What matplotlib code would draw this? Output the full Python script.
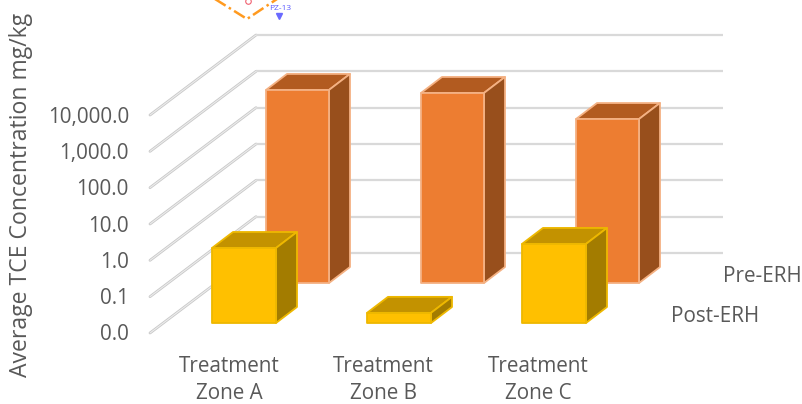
import matplotlib
matplotlib.use("Agg")
import matplotlib.pyplot as plt
from matplotlib.patches import Polygon
import numpy as np

categories = ["Treatment\nZone A", "Treatment\nZone B", "Treatment\nZone C"]
series_names = ["Pre-ERH", "Post-ERH"]
pre_erh = [2060.0, 1700.0, 326.0]
post_erh = [1.16, 0.019, 1.5]
tick_values = [0.01, 0.1, 1, 10, 100, 1000, 10000]
tick_labels = ["0.0", "0.1", "1.0", "10.0", "100.0", "1,000.0", "10,000.0"]

plt.rcParams["font.family"] = ["Open Sans", "DejaVu Sans"]
TXT = "#595959"
GRID = "#d9d9d9"
FS = 14.9

fig = plt.figure(figsize=(8.02, 4.04), dpi=100)
ax = fig.add_axes([0, 0, 1, 1])
ax.set_xlim(0, 802)
ax.set_ylim(404, 0)
ax.axis("off")

# oblique projection: decade height, wall depth
DEC = 36.33
FLOOR = 333.0
DX, DY = 106.0, -80.0


def h(v):
    return (np.log10(v) + 2) * DEC


# walls
for v, lab in zip(tick_values, tick_labels):
    y = FLOOR - h(v)
    ax.plot([150, 150 + DX], [y, y + DY], color="#c8c8c8", lw=2.0,
            solid_capstyle="round", zorder=1)
    ax.plot([150, 150 + DX], [y, y + DY], color="#ececec", lw=0.8,
            solid_capstyle="round", zorder=1.1)
    ax.plot([150 + DX, 723], [y + DY, y + DY], color=GRID, lw=1.6,
            solid_capstyle="butt", zorder=1)
    ax.text(129, y + 2, lab, ha="right", va="center", fontsize=FS, color=TXT)


def bar(x0, base, v, w, front, top, side, edge):
    d, e = 21, -16
    t = base - h(v)
    kw = dict(closed=True, ec=edge, lw=1.3, joinstyle="round")
    ax.add_patch(Polygon([(x0, t), (x0 + w, t), (x0 + w + d, t + e), (x0 + d, t + e)], fc=top, zorder=zo[0], **kw))
    ax.add_patch(Polygon([(x0 + w, t), (x0 + w + d, t + e), (x0 + w + d, base + e), (x0 + w, base)], fc=side, zorder=zo[0], **kw))
    ax.add_patch(Polygon([(x0, t), (x0 + w, t), (x0 + w, base), (x0, base)], fc=front, zorder=zo[0], **kw))


zo = [3]
for i, v in enumerate(pre_erh):
    bar(266 + 155 * i, 283, v, 63, "#ed7d31", "#b25b20", "#984f1c", "#f4b183")
zo = [4]
for i, v in enumerate(post_erh):
    bar(212 + 155 * i, 323, v, 64, "#ffc000", "#c39200", "#a37c00", "#eeb800")

for i, c in enumerate(categories):
    ax.text(229 + 154.5 * i, 380, c, ha="center", va="center", fontsize=FS,
            color=TXT, linespacing=1.43)

ax.text(723, 276, series_names[0], ha="left", va="center", fontsize=FS, color=TXT)
ax.text(671, 316, series_names[1], ha="left", va="center", fontsize=FS, color=TXT)
ax.text(21, 195, "Average TCE Concentration mg/kg", rotation=90, ha="center", va="center",
        fontsize=16.6, color=TXT)

# clipped fragment of an overlapping figure at the top edge
ax.plot([215, 247, 277], [-1, 19, -1], color="#ff9a1f", lw=1.8, ls=(0, (5, 1.5, 1, 1.5)), zorder=5)
ax.plot([248], [1], marker="o", ms=4, mfc="none", mec="#f06070", mew=0.8, zorder=5)
ax.plot([279], [16], marker="v", ms=5, color="#6a6aff", zorder=5)
ax.text(280, 8, "PZ-13", ha="center", va="center", fontsize=6, color="#5a5aff", zorder=5)

fig.savefig("out.png", dpi=100)
